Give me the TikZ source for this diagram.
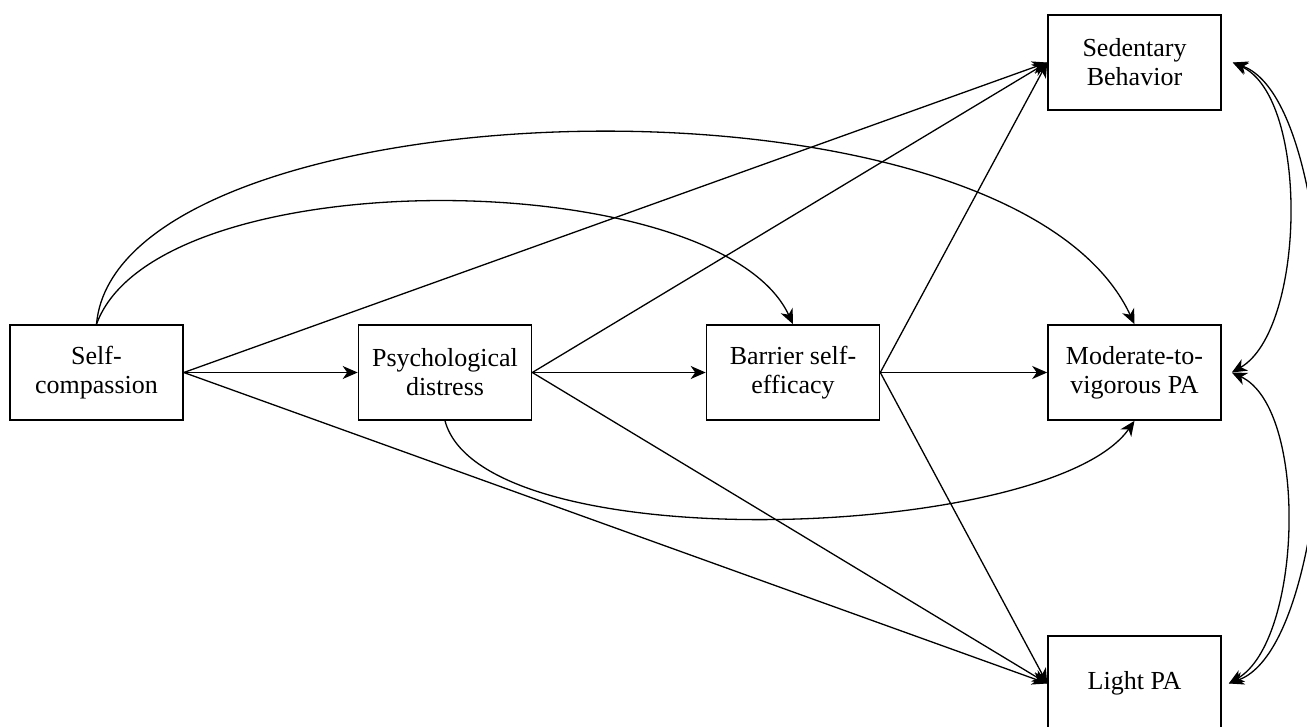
\documentclass[tikz,border=0pt]{standalone}
\usepackage{fontspec}
\setmainfont{Liberation Serif}
\usetikzlibrary{arrows.meta}
\begin{document}
\begin{tikzpicture}[x=1pt,y=1pt,
  box/.style={draw, line width=1.6pt, minimum width=173pt, minimum height=95pt,
    align=center, inner sep=0pt, font=\fontsize{26}{29}\selectfont},
  conn/.style={line width=1.3pt, -{Stealth[length=15pt,width=13pt,inset=4.5pt]}},
  cov/.style={line width=1.3pt, {Stealth[length=15pt,width=13pt,inset=4.5pt]}-{Stealth[length=15pt,width=13pt,inset=4.5pt]}}]
\useasboundingbox (0,0) rectangle (1307,-727);
\node[box] (sc)   at (96.5,-372.5)  {Self-\\compassion};
\node[box] (pd)   at (445,-372.5)   {Psychological\\distress};
\node[box] (bse)  at (793,-372.5)   {Barrier self-\\efficacy};
\node[box] (mvpa) at (1134.5,-372.5) {Moderate-to-\\vigorous PA};
\node[box] (sb)   at (1134.5,-62.5)  {Sedentary\\Behavior};
\node[box] (lpa)  at (1134.5,-683.5) {Light PA};
% straight paths
\draw[conn] (sc.east) -- (pd.west);
\draw[conn] (sc.east) -- (sb.west);
\draw[conn] (sc.east) -- (lpa.west);
\draw[conn] (pd.east) -- (bse.west);
\draw[conn] (pd.east) -- (sb.west);
\draw[conn] (pd.east) -- (lpa.west);
\draw[conn] (bse.east) -- (mvpa.west);
\draw[conn] (bse.east) -- (sb.west);
\draw[conn] (bse.east) -- (lpa.west);
% curved paths
\draw[conn] (sc.north) .. controls +(70:177) and +(115:177) .. (bse.north);
\draw[conn] (sc.north) .. controls +(85:240) and +(115:300) .. (mvpa.north);
\draw[conn] (pd.south) .. controls +(-75:146) and +(-125:146) .. (mvpa.south);
% covariances
\draw[cov] ([xshift=11pt]sb.east) .. controls +(-25:85) and +(30:85) .. ([xshift=10pt]mvpa.east);
\draw[cov] ([xshift=10pt]mvpa.east) .. controls +(-25:85) and +(30:85) .. ([xshift=7pt]lpa.east);
\draw[cov] ([xshift=11pt]sb.east) .. controls +(-20:128) and +(20:128) .. ([xshift=7pt]lpa.east);
\end{tikzpicture}
\end{document}
